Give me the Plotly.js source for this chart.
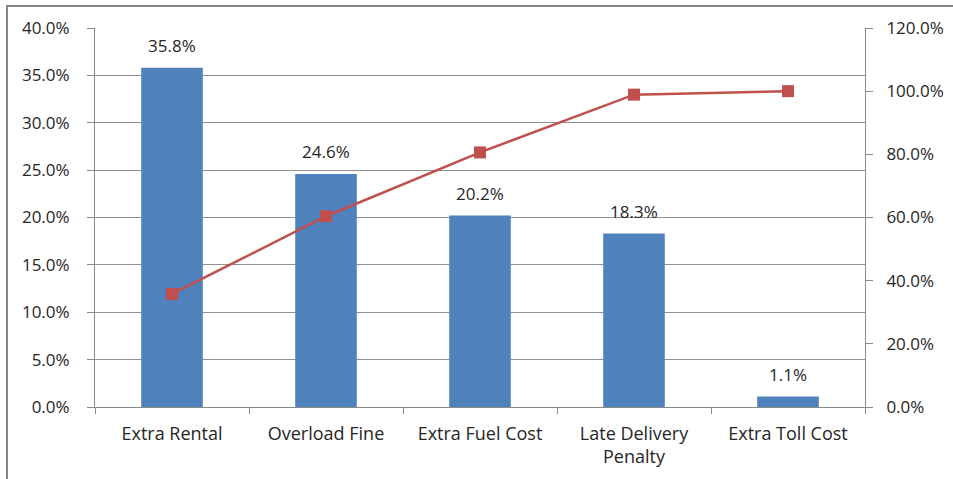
<!DOCTYPE html>
<html>
<head>
<meta charset="utf-8">
<script src="https://cdn.plot.ly/plotly-3.0.1.min.js"></script>
<style>html,body{margin:0;padding:0;background:#fff;}</style>
</head>
<body>
<div id="chart" style="width:953px;height:479px;"></div>
<script>
const categories = ["Extra Rental", "Overload Fine", "Extra Fuel Cost", "Late Delivery<br>Penalty", "Extra Toll Cost"];
const shareValues = [0.358, 0.246, 0.202, 0.183, 0.011];
const cumulativeValues = [0.358, 0.604, 0.806, 0.989, 1.000];
const leftTicks = [0, 0.05, 0.10, 0.15, 0.20, 0.25, 0.30, 0.35, 0.40];
const rightTicks = [0, 0.2, 0.4, 0.6, 0.8, 1.0, 1.2];

const fontFam = "Open Sans, Noto Sans, sans-serif";
const txtColor = "#262626";
const fontSize = 17;

const traces = [
  {
    type: "bar",
    x: categories,
    y: shareValues,
    marker: {color: "#4F81BD"},
    width: 0.4,
    hoverinfo: "skip",
    showlegend: false
  },
  {
    type: "scatter",
    mode: "lines+markers",
    x: categories,
    y: cumulativeValues,
    yaxis: "y2",
    line: {color: "#C0504D", width: 2.5},
    marker: {symbol: "square", size: 12, color: "#C0504D"},
    cliponaxis: false,
    showlegend: false
  }
];

const labelAnnotations = categories.map((c, i) => ({
  x: c,
  y: shareValues[i],
  xref: "x",
  yref: "y",
  text: (shareValues[i] * 100).toFixed(1) + "%",
  showarrow: false,
  yanchor: "bottom",
  yshift: 9,
  font: {family: fontFam, size: fontSize, color: txtColor}
}));

const layout = {
  width: 953,
  height: 479,
  margin: {l: 95, r: 88, t: 28, b: 72},
  paper_bgcolor: "#ffffff",
  plot_bgcolor: "#ffffff",
  font: {family: fontFam, size: fontSize, color: txtColor},
  showlegend: false,
  xaxis: {
    type: "category",
    showline: true,
    linecolor: "#898989",
    linewidth: 1,
    ticks: "outside",
    tickson: "boundaries",
    ticklen: 6,
    tickcolor: "#898989",
    showgrid: false,
    tickfont: {family: fontFam, size: 18, color: txtColor},
    ticklabelstandoff: 10,
    fixedrange: true
  },
  yaxis: {
    range: [0, 0.4],
    tickvals: leftTicks,
    tickformat: ".1%",
    showline: true,
    linecolor: "#898989",
    ticks: "outside",
    ticklen: 7,
    tickcolor: "#898989",
    showgrid: true,
    gridcolor: "#8f8f8f",
    gridwidth: 1,
    zeroline: false,
    tickfont: {family: fontFam, size: fontSize, color: txtColor},
    ticklabelstandoff: 14
  },
  yaxis2: {
    range: [0, 1.2],
    tickvals: rightTicks,
    tickformat: ".1%",
    overlaying: "y",
    side: "right",
    showline: true,
    linecolor: "#898989",
    ticks: "outside",
    ticklen: 7,
    tickcolor: "#898989",
    showgrid: false,
    zeroline: false,
    tickfont: {family: fontFam, size: fontSize, color: txtColor},
    ticklabelstandoff: 10
  },
  annotations: labelAnnotations,
  shapes: [
    {
      type: "path",
      xref: "paper", yref: "paper",
      path: "M -0.1143 -0.3 L -0.1143 1.058 L 1.3 1.058",
      line: {color: "#868686", width: 2}
    }
  ]
};

Plotly.newPlot("chart", traces, layout, {displayModeBar: false, staticPlot: true});
</script>
</body>
</html>
